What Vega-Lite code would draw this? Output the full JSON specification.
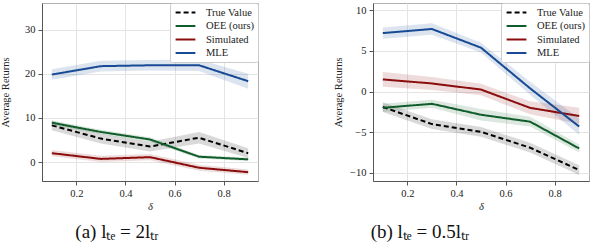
{
  "$schema": "https://vega.github.io/schema/vega-lite/v6.json",
  "background": "white",
  "padding": {"left": 0, "top": 2, "right": 1, "bottom": 2},
  "bounds": "flush",
  "spacing": 115,
  "resolve": {"scale": {"color": "independent", "strokeDash": "independent"}, "legend": {"color": "independent", "strokeDash": "independent"}},
  "config": {
    "font": "Liberation Serif",
    "view": {"stroke": "#b0b0b0", "strokeWidth": 1},
    "axis": {
      "grid": true,
      "gridColor": "#e4e4e4",
      "gridWidth": 1,
      "tickColor": "#555",
      "tickSize": 4,
      "domainColor": "#555",
      "labelFont": "Liberation Serif",
      "titleFont": "Liberation Serif",
      "labelFontSize": 10.5,
      "labelColor": "#222",
      "labelPadding": 3,
      "titleFontSize": 10.5,
      "titleFontWeight": "normal",
      "titleColor": "#222"
    },
    "legend": {
      "orient": "top-right",
      "offset": 0,
      "fillColor": "white",
      "strokeColor": "#cccccc",
      "padding": 3,
      "cornerRadius": 2,
      "labelFont": "Liberation Serif",
      "labelFontSize": 10.5,
      "labelColor": "#222",
      "symbolType": "M-1.8,0H1.8",
      "symbolSize": 121,
      "symbolStrokeWidth": 2,
      "symbolOpacity": 1,
      "symbolOffset": 6,
      "rowPadding": 1.5,
      "labelOffset": 14
    },
    "title": {"font": "Liberation Serif", "fontSize": 19, "fontWeight": "normal", "color": "#111"}
  },
  "datasets": {
    "a": [
      {"s": "True Value", "d": 0.1, "v": 8.3, "lo": 7.2, "hi": 9.4},
      {"s": "True Value", "d": 0.3, "v": 5.3, "lo": 4.2, "hi": 6.4},
      {"s": "True Value", "d": 0.5, "v": 3.5, "lo": 2.4, "hi": 4.6},
      {"s": "True Value", "d": 0.7, "v": 5.5, "lo": 4.2, "hi": 6.8},
      {"s": "True Value", "d": 0.9, "v": 2.0, "lo": 0.9, "hi": 3.1},
      {"s": "OEE (ours)", "d": 0.1, "v": 8.9, "lo": 8.4, "hi": 9.4},
      {"s": "OEE (ours)", "d": 0.3, "v": 6.8, "lo": 6.3, "hi": 7.3},
      {"s": "OEE (ours)", "d": 0.5, "v": 5.1, "lo": 4.6, "hi": 5.6},
      {"s": "OEE (ours)", "d": 0.7, "v": 1.2, "lo": 0.8, "hi": 1.6},
      {"s": "OEE (ours)", "d": 0.9, "v": 0.6, "lo": 0.2, "hi": 1.0},
      {"s": "Simulated", "d": 0.1, "v": 2.0, "lo": 1.3, "hi": 2.7},
      {"s": "Simulated", "d": 0.3, "v": 0.7, "lo": 0.0, "hi": 1.4},
      {"s": "Simulated", "d": 0.5, "v": 1.1, "lo": 0.4, "hi": 1.8},
      {"s": "Simulated", "d": 0.7, "v": -1.3, "lo": -2.0, "hi": -0.6},
      {"s": "Simulated", "d": 0.9, "v": -2.3, "lo": -2.9, "hi": -1.7},
      {"s": "MLE", "d": 0.1, "v": 19.8, "lo": 18.6, "hi": 21.0},
      {"s": "MLE", "d": 0.3, "v": 21.7, "lo": 20.5, "hi": 22.9},
      {"s": "MLE", "d": 0.5, "v": 21.9, "lo": 20.7, "hi": 23.1},
      {"s": "MLE", "d": 0.7, "v": 21.9, "lo": 20.6, "hi": 23.2},
      {"s": "MLE", "d": 0.9, "v": 18.3, "lo": 16.6, "hi": 20.0}
    ],
    "b": [
      {"s": "True Value", "d": 0.1, "v": -1.9, "lo": -2.5, "hi": -1.3},
      {"s": "True Value", "d": 0.3, "v": -4.0, "lo": -4.6, "hi": -3.4},
      {"s": "True Value", "d": 0.5, "v": -4.95, "lo": -5.55, "hi": -4.35},
      {"s": "True Value", "d": 0.7, "v": -6.9, "lo": -7.5, "hi": -6.3},
      {"s": "True Value", "d": 0.9, "v": -9.65, "lo": -10.25, "hi": -9.05},
      {"s": "OEE (ours)", "d": 0.1, "v": -2.0, "lo": -2.5, "hi": -1.5},
      {"s": "OEE (ours)", "d": 0.3, "v": -1.5, "lo": -2.0, "hi": -1.0},
      {"s": "OEE (ours)", "d": 0.5, "v": -2.85, "lo": -3.55, "hi": -2.15},
      {"s": "OEE (ours)", "d": 0.7, "v": -3.7, "lo": -4.3, "hi": -3.1},
      {"s": "OEE (ours)", "d": 0.9, "v": -7.0, "lo": -7.5, "hi": -6.5},
      {"s": "Simulated", "d": 0.1, "v": 1.5, "lo": 0.6, "hi": 2.4},
      {"s": "Simulated", "d": 0.3, "v": 1.0, "lo": 0.2, "hi": 1.8},
      {"s": "Simulated", "d": 0.5, "v": 0.25, "lo": -0.45, "hi": 0.95},
      {"s": "Simulated", "d": 0.7, "v": -2.0, "lo": -2.8, "hi": -1.2},
      {"s": "Simulated", "d": 0.9, "v": -3.0, "lo": -4.0, "hi": -2.0},
      {"s": "MLE", "d": 0.1, "v": 7.2, "lo": 6.5, "hi": 7.9},
      {"s": "MLE", "d": 0.3, "v": 7.7, "lo": 7.0, "hi": 8.4},
      {"s": "MLE", "d": 0.5, "v": 5.4, "lo": 4.8, "hi": 6.0},
      {"s": "MLE", "d": 0.7, "v": 0.4, "lo": -0.4, "hi": 1.2},
      {"s": "MLE", "d": 0.9, "v": -4.3, "lo": -5.3, "hi": -3.3}
    ]
  },
  "hconcat": [
    {
      "width": 216,
      "height": 178,
      "data": {"name": "a"},
      "title": {"text": "(a) lₜₑ = 2lₜᵣ", "orient": "bottom", "offset": 11, "dx": -33},
      "encoding": {
        "x": {"field": "d", "type": "quantitative", "scale": {"domain": [0.06, 0.94], "nice": false, "zero": false}, "axis": {"values": [0.2, 0.4, 0.6, 0.8], "format": ".1f", "title": "δ", "titlePadding": 3, "titleFontStyle": "italic", "labelFont": "Liberation Serif", "titleFont": "Liberation Serif"}},
        "color": {"field": "s", "type": "nominal", "title": null, "scale": {"domain": ["True Value", "OEE (ours)", "Simulated", "MLE"], "range": ["#000000", "#105c2a", "#8a0c0c", "#174a94"]}, "legend": {"title": null}}
      },
      "layer": [
        {
          "mark": {"type": "area", "opacity": 0.15},
          "encoding": {
            "y": {"field": "lo", "type": "quantitative", "scale": {"domain": [-4.3, 36], "nice": false, "zero": false}, "axis": {"values": [0, 10, 20, 30], "title": "Average Returns", "titlePadding": 14, "labelFont": "Liberation Serif", "titleFont": "Liberation Serif"}},
            "y2": {"field": "hi"}
          }
        },
        {
          "mark": {"type": "line", "strokeWidth": 2},
          "encoding": {
            "y": {"field": "v", "type": "quantitative", "scale": {"domain": [-4.3, 36], "nice": false, "zero": false}, "axis": {"values": [0, 10, 20, 30], "title": "Average Returns", "titlePadding": 14, "labelFont": "Liberation Serif", "titleFont": "Liberation Serif"}},
            "strokeDash": {"field": "s", "type": "nominal", "title": null, "scale": {"domain": ["True Value", "OEE (ours)", "Simulated", "MLE"], "range": [[5, 3], [1, 0], [1, 0], [1, 0]]}, "legend": {"title": null}}
          }
        }
      ]
    },
    {
      "width": 216,
      "height": 178,
      "data": {"name": "b"},
      "title": {"text": "(b) lₜₑ = 0.5lₜᵣ", "orient": "bottom", "offset": 11, "dx": -61},
      "encoding": {
        "x": {"field": "d", "type": "quantitative", "scale": {"domain": [0.06, 0.94], "nice": false, "zero": false}, "axis": {"values": [0.2, 0.4, 0.6, 0.8], "format": ".1f", "title": "δ", "titlePadding": 3, "titleFontStyle": "italic", "labelFont": "Liberation Serif", "titleFont": "Liberation Serif"}},
        "color": {"field": "s", "type": "nominal", "title": null, "scale": {"domain": ["True Value", "OEE (ours)", "Simulated", "MLE"], "range": ["#000000", "#105c2a", "#8a0c0c", "#174a94"]}, "legend": {"title": null}}
      },
      "layer": [
        {
          "mark": {"type": "area", "opacity": 0.15},
          "encoding": {
            "y": {"field": "lo", "type": "quantitative", "scale": {"domain": [-11, 10.9], "nice": false, "zero": false}, "axis": {"values": [-10, -5, 0, 5, 10], "title": "Average Returns", "titlePadding": 6, "labelFont": "Liberation Serif", "titleFont": "Liberation Serif"}},
            "y2": {"field": "hi"}
          }
        },
        {
          "mark": {"type": "line", "strokeWidth": 2},
          "encoding": {
            "y": {"field": "v", "type": "quantitative", "scale": {"domain": [-11, 10.9], "nice": false, "zero": false}, "axis": {"values": [-10, -5, 0, 5, 10], "title": "Average Returns", "titlePadding": 6, "labelFont": "Liberation Serif", "titleFont": "Liberation Serif"}},
            "strokeDash": {"field": "s", "type": "nominal", "title": null, "scale": {"domain": ["True Value", "OEE (ours)", "Simulated", "MLE"], "range": [[5, 3], [1, 0], [1, 0], [1, 0]]}, "legend": {"title": null}}
          }
        }
      ]
    }
  ]
}
